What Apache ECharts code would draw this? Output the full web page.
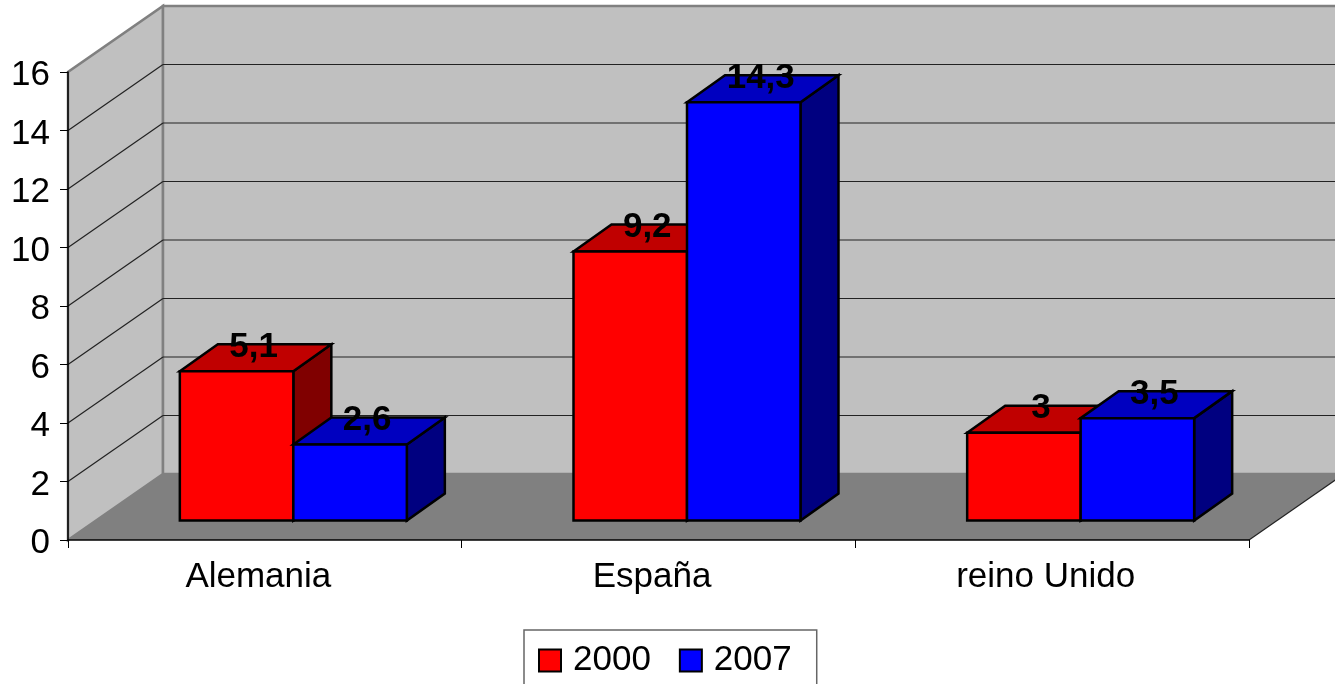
<!DOCTYPE html>
<html>
<head>
<meta charset="utf-8">
<title>Alemania, España, reino Unido</title>
<script src="https://cdn.jsdelivr.net/npm/echarts@6/dist/echarts.min.js"></script>
<style>
  html, body { margin: 0; padding: 0; background: #fff; overflow: hidden; }
  #chart { width: 1335px; height: 684px; }
</style>
</head>
<body>
<div id="chart"></div>
<script>
var categories = ['Alemania', 'España', 'reino Unido']
var values2000 = [5.1, 9.2, 3]
var values2007 = [2.6, 14.3, 3.5]
var gridValues = [2, 4, 6, 8, 10, 12, 14]

var fontName = '"Liberation Sans", Arial, sans-serif'

// fake 3d offsets, pixels
var wallDx = 95
var wallDy = -66
var barDx = 38
var barDy = -27
var barShift = 28.5
var barLift = 19.5
var barWidth = 113.5

function renderWalls (params) {
  var c = params.coordSys
  var x = c.x
  var y = c.y
  var w = c.width
  var h = c.height
  var edge = { stroke: '#808080', lineWidth: 2.5 }
  return {
    type: 'group',
    silent: true,
    children: [
      {
        type: 'polygon',
        shape: { points: [[x, y + h], [x, y], [x + wallDx, y + wallDy], [x + wallDx, y + h + wallDy]] },
        style: Object.assign({ fill: '#c0c0c0' }, edge)
      },
      {
        type: 'polygon',
        shape: { points: [[x + wallDx, y + wallDy], [x + w + wallDx, y + wallDy], [x + w + wallDx, y + h + wallDy], [x + wallDx, y + h + wallDy]] },
        style: Object.assign({ fill: '#c0c0c0' }, edge)
      },
      {
        type: 'polygon',
        shape: { points: [[x, y + h], [x + wallDx, y + h + wallDy], [x + w + wallDx, y + h + wallDy], [x + w, y + h]] },
        style: { fill: '#808080' }
      },
      {
        type: 'line',
        shape: { x1: x + w, y1: y + h, x2: x + w + wallDx, y2: y + h + wallDy },
        style: { stroke: '#222', lineWidth: 1.2 }
      }
    ]
  }
}

function renderGridLine (params, api) {
  var c = params.coordSys
  var py = api.coord([0, api.value(0)])[1]
  var style = { stroke: '#222', lineWidth: 1.2 }
  return {
    type: 'group',
    silent: true,
    children: [
      { type: 'line', shape: { x1: c.x, y1: py, x2: c.x + wallDx, y2: py + wallDy }, style: style },
      { type: 'line', shape: { x1: c.x + wallDx, y1: py + wallDy, x2: c.x + c.width + wallDx, y2: py + wallDy }, style: style }
    ]
  }
}

// side: -1 left bar of the pair, 0 right bar
function barRenderer (side, front, topColor, sideColor) {
  return function (params, api) {
    var cat = api.value(0)
    var val = api.value(1)
    var zero = api.coord([cat, 0])
    var p = api.coord([cat, val])
    var left = zero[0] + barShift + side * barWidth
    var right = left + barWidth
    var bottom = zero[1] - barLift
    var top = p[1] - barLift
    var line = { stroke: '#000', lineWidth: 2.5, lineJoin: 'miter' }
    return {
      type: 'group',
      children: [
        {
          type: 'polygon',
          shape: { points: [[right, top], [right + barDx, top + barDy], [right + barDx, bottom + barDy], [right, bottom]] },
          style: Object.assign({ fill: sideColor }, line)
        },
        {
          type: 'polygon',
          shape: { points: [[left, top], [left + barDx, top + barDy], [right + barDx, top + barDy], [right, top]] },
          style: Object.assign({ fill: topColor }, line)
        },
        {
          type: 'rect',
          shape: { x: left, y: top, width: barWidth, height: bottom - top },
          style: Object.assign({ fill: front }, line)
        },
        {
          type: 'text',
          z2: 10,
          style: {
            x: left + barWidth / 2 + 17,
            y: top + barDy + 3,
            text: String(val).replace('.', ','),
            fill: '#000',
            font: 'bold 35px ' + fontName,
            align: 'center',
            verticalAlign: 'middle'
          }
        }
      ]
    }
  }
}

var myChart = echarts.init(document.getElementById('chart'))
var option = {
  animation: false,
  backgroundColor: '#fff',
  textStyle: { fontFamily: fontName },
  legend: {
    data: ['2000', '2007'],
    left: 524,
    top: 630,
    orient: 'horizontal',
    icon: 'rect',
    itemWidth: 22,
    itemHeight: 22,
    itemGap: 28,
    padding: [13, 25, 30, 14],
    backgroundColor: '#fff',
    borderColor: '#666',
    borderWidth: 1.5,
    selectedMode: false,
    itemStyle: { borderColor: '#000', borderWidth: 2 },
    textStyle: { fontSize: 35, color: '#000', fontFamily: fontName, padding: [0, 0, 0, 7] }
  },
  grid: { left: 68, top: 72, width: 1181, height: 468 },
  xAxis: {
    type: 'category',
    data: categories,
    z: 3,
    axisLine: { lineStyle: { color: '#000', width: 1.5 } },
    axisTick: { show: true, length: 8, lineStyle: { color: '#000', width: 1 } },
    axisLabel: { fontSize: 35, color: '#000', margin: 20, padding: [0, 13, 0, 0], fontFamily: fontName }
  },
  yAxis: {
    type: 'value',
    min: 0,
    max: 16,
    interval: 2,
    z: 3,
    axisLine: { show: true, lineStyle: { color: '#000', width: 1.5 } },
    axisTick: { show: true, length: 8, lineStyle: { color: '#000', width: 1 } },
    axisLabel: { fontSize: 35, color: '#000', margin: 18, verticalAlign: 'top', lineHeight: 7, fontFamily: fontName },
    splitLine: { show: false }
  },
  series: [
    { type: 'custom', name: 'walls', z: 1, silent: true, data: [0], renderItem: renderWalls },
    { type: 'custom', name: 'lines', z: 2, silent: true, data: gridValues, encode: { y: 0 }, renderItem: renderGridLine },
    {
      type: 'custom',
      name: '2000',
      z: 4,
      itemStyle: { color: '#ff0000' },
      data: values2000.map(function (v, i) { return [i, v] }),
      renderItem: barRenderer(-1, '#ff0000', '#c00000', '#800000')
    },
    {
      type: 'custom',
      name: '2007',
      z: 5,
      itemStyle: { color: '#0000ff' },
      data: values2007.map(function (v, i) { return [i, v] }),
      renderItem: barRenderer(0, '#0000ff', '#0000c0', '#000080')
    }
  ]
}
myChart.setOption(option)
</script>
</body>
</html>
